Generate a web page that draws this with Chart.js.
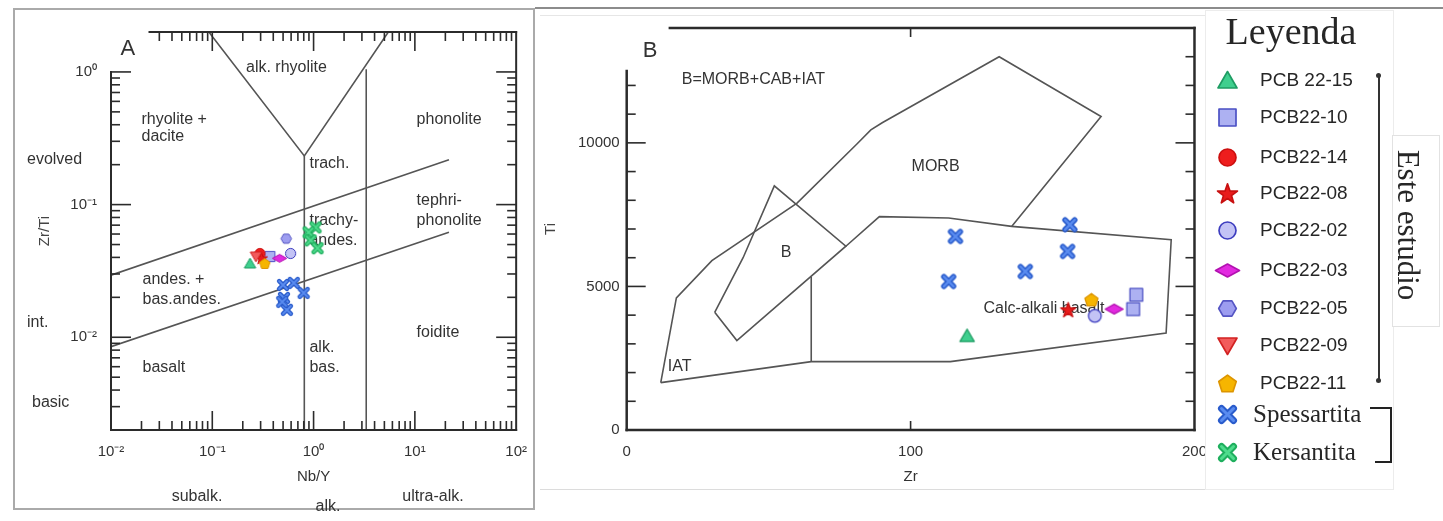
<!DOCTYPE html>
<html>
<head>
<meta charset="utf-8">
<script src="https://cdn.jsdelivr.net/npm/chart.js@4.4.1/dist/chart.umd.min.js"></script>
<style>
  body { margin: 0; background: #fff; }
  #page { position: relative; width: 1443px; height: 521px; overflow: hidden; background: #fff; }
  .abs { position: absolute; }
  .lg { position: absolute; line-height: 1; transform: translateY(-50%); white-space: nowrap; color: #262626; }
  .sans { font: 19px "Liberation Sans", Arial, sans-serif; }
  .serif { font: 25px "Liberation Serif", "Times New Roman", serif; }
</style>
</head>
<body>
<div id="page">
  <div class="abs" style="left:13px;top:8px;width:522px;height:502px;border:2px solid #aaa;box-sizing:border-box"></div>
  <div class="abs" style="left:0;top:0;width:540px;height:521px"><canvas id="chartA"></canvas></div>
  <div class="abs" style="left:535px;top:7px;width:908px;height:2px;background:#8c8c8c"></div>
  <div class="abs" style="left:540px;top:15px;width:665px;height:1px;background:#e6e6e6"></div>
  <div class="abs" style="left:540px;top:489px;width:665px;height:1px;background:#dcdcdc"></div>
  <div class="abs" style="left:540px;top:0;width:680px;height:521px"><canvas id="chartB"></canvas></div>
  <div class="abs" style="left:1205px;top:10px;width:187px;height:478px;background:#fff;border:1px solid #ececec"></div>
  <div class="abs" style="left:1392px;top:135px;width:46px;height:190px;border:1px solid #e2e2e2;background:#fff"></div>
  <div class="lg serif" style="left:1291px;top:31px;font-size:38px;transform:translate(-50%,-50%)">Leyenda</div>
  <div class="lg serif" style="left:1408px;top:225px;font-size:31px;transform:translate(-50%,-50%) rotate(90deg)">Este estudio</div>
  <div class="abs" style="left:1378px;top:76px;width:1.5px;height:304px;background:#333"></div>
  <div class="abs" style="left:1376px;top:73px;width:5px;height:5px;border-radius:3px;background:#333"></div>
  <div class="abs" style="left:1376px;top:378px;width:5px;height:5px;border-radius:3px;background:#333"></div>
  <div class="abs" style="left:1370px;top:407px;width:22px;height:2px;background:#222"></div>
  <div class="abs" style="left:1390px;top:407px;width:2px;height:56px;background:#222"></div>
  <div class="abs" style="left:1375px;top:461px;width:17px;height:2px;background:#222"></div>
</div>
<script>
const FAMILY = '"Liberation Sans", Arial, Helvetica, sans-serif';
Chart.defaults.font.family = FAMILY;

// samples, in legend order
const seriesNames = ['PCB 22-15', 'PCB22-10', 'PCB22-14', 'PCB22-08', 'PCB22-02', 'PCB22-03',
                     'PCB22-05', 'PCB22-09', 'PCB22-11', 'Spessartita', 'Kersantita'];
const seriesShape = ['triUp', 'square', 'circle', 'star', 'circle', 'diamond',
                     'hexagon', 'triDown', 'pentagon', 'cross', 'cross'];
const seriesFill = ['#3fcf8e', '#adb1f2', '#ee1d1d', '#e81c1c', '#c3c3f5', '#e22ae0',
                    '#9d9df0', '#f25b5b', '#f6b500', '#5a8cf0', '#4fdc8d'];
const seriesLine = ['#1e9c63', '#4a4fc4', '#cc0f0f', '#c81010', '#3d3dbf', '#b212b0',
                    '#5656c4', '#d22222', '#dd9500', '#2a5ccc', '#1faf5e'];

// panel A : Nb/Y vs Zr/Ti
const nbY = [[0.236], [0.37], [0.295], [0.306], [0.593], [0.462], [0.537], [0.27], [0.33],
             [0.499, 0.638, 0.798, 0.51, 0.545, 0.49],
             [1.046, 0.893, 0.935, 1.094]];
const zrTi = [[0.036], [0.0406], [0.0428], [0.0394], [0.0428], [0.0394], [0.0554], [0.0406], [0.036],
              [0.0248, 0.0257, 0.0216, 0.0198, 0.0161, 0.0185],
              [0.0673, 0.0618, 0.0538, 0.0469]];

// panel B : Zr vs Ti (ppm)
const zrB = [[119.9], [179.5, 178.4], [], [155.5], [164.9], [171.7], [], [], [163.7],
             [115.8, 113.4, 140.4, 156.1, 155.3], []];
const tiB = [[3279], [4709, 4210], [], [4186], [3976], [4210], [], [], [4534],
             [6742, 5173, 5522, 7150, 6219], []];

// field boundaries
const boundsA = [
  [[0.0925, 2], [0.81, 0.233], [5.47, 2]],
  [[0.81, 0.233], [0.81, 0.002]],
  [[3.31, 1.05], [3.31, 0.002]],
  [[0.01, 0.0294], [21.7, 0.218]],
  [[0.01, 0.00849], [21.7, 0.0618]]
];
const boundsB = [
  [[12, 1650], [17.5, 4600], [30, 5900], [60, 7900], [81, 9950], [86, 10450], [90, 10700], [131.2, 13000], [167.1, 10920], [135.6, 7090]],
  [[31, 4100], [41, 6000], [52, 8500], [77.2, 6400], [38.8, 3115], [31, 4100]],
  [[77.2, 6400], [89, 7430], [113.4, 7384], [135.6, 7091], [191.8, 6627], [190, 3373], [114, 2382], [65, 2382], [12, 1650]],
  [[65, 2382], [65, 5340]]
];

// ticks
const xTicksA = [0.01, 0.1, 1, 10, 100];
const xLabelsA = ['10⁻²', '10⁻¹', '10⁰', '10¹', '10²'];
const yTicksA = [0.01, 0.1, 1];
const yLabelsA = ['10⁻²', '10⁻¹', '10⁰'];
const xTicksB = [0, 100, 200];
const yTicksB = [0, 5000, 10000];

// field names
const labelsA = [
  ['A', 0.0147, 1.48, 'center', 22], ['alk. rhyolite', 0.54, 1.07, 'center'],
  ['rhyolite +', 0.020, 0.434], ['dacite', 0.020, 0.324], ['phonolite', 10.4, 0.434],
  ['trach.', 0.91, 0.203], ['tephri-', 10.4, 0.107], ['phonolite', 10.4, 0.076],
  ['trachy-', 0.91, 0.076], ['andes.', 0.91, 0.0538], ['andes. +', 0.0205, 0.027],
  ['bas.andes.', 0.0205, 0.0191], ['foidite', 10.4, 0.0108], ['alk.', 0.91, 0.00834],
  ['bas.', 0.91, 0.0059], ['basalt', 0.0205, 0.0059]
];
const outerA = [
  ['evolved', 27, 160, 'left'], ['int.', 27, 323, 'left'], ['basic', 32, 403, 'left'],
  ['subalk.', 197, 497, 'center'], ['alk.', 328, 507, 'center'], ['ultra-alk.', 433, 497, 'center']
];
const labelsB = [
  ['B', 8.2, 13185, 'center', 22], ['B=MORB+CAB+IAT', 19.4, 12208], ['MORB', 108.8, 9184, 'center'],
  ['B', 56.1, 6174, 'center'], ['IAT', 14.5, 2197], ['Calc-alkali basalt', 125.7, 4220]
];

function regular(g, cx, cy, R, n, startDeg) {
  for (let k = 0; k < n; k++) {
    const a = (startDeg + k * 360 / n) * Math.PI / 180;
    const px = cx + R * Math.cos(a), py = cy + R * Math.sin(a);
    k ? g.lineTo(px, py) : g.moveTo(px, py);
  }
  g.closePath();
}

function makeMarker(i, size) {
  const c = document.createElement('canvas');
  const s = Math.ceil(size * 1.35) + 4;
  c.width = s; c.height = s;
  const g = c.getContext('2d');
  const r = size / 2, cx = s / 2, cy = s / 2;
  g.fillStyle = seriesFill[i];
  g.strokeStyle = seriesLine[i];
  g.lineWidth = Math.max(1, size / 12);
  g.lineJoin = 'round';
  g.beginPath();
  switch (seriesShape[i]) {
    case 'triUp': regular(g, cx, cy + r * 0.2, r * 1.1, 3, -90); break;
    case 'triDown': regular(g, cx, cy - r * 0.2, r * 1.1, 3, 90); break;
    case 'square': g.rect(cx - r * 0.85, cy - r * 0.85, r * 1.7, r * 1.7); break;
    case 'circle': g.arc(cx, cy, r * 0.85, 0, 2 * Math.PI); break;
    case 'hexagon': regular(g, cx, cy, r * 0.88, 6, 0); break;
    case 'pentagon': regular(g, cx, cy + r * 0.08, r * 0.92, 5, -90); break;
    case 'diamond':
      g.moveTo(cx - r * 1.2, cy); g.lineTo(cx, cy - r * 0.65);
      g.lineTo(cx + r * 1.2, cy); g.lineTo(cx, cy + r * 0.65); g.closePath();
      break;
    case 'star':
      for (let k = 0; k < 10; k++) {
        const a = (-90 + k * 36) * Math.PI / 180, R = k % 2 ? r * 0.42 : r * 1.05;
        const px = cx + R * Math.cos(a), py = cy + r * 0.08 + R * Math.sin(a);
        k ? g.lineTo(px, py) : g.moveTo(px, py);
      }
      g.closePath();
      break;
    case 'cross': {
      const d = r * 0.6;
      g.lineCap = 'round';
      g.moveTo(cx - d, cy - d); g.lineTo(cx + d, cy + d);
      g.moveTo(cx + d, cy - d); g.lineTo(cx - d, cy + d);
      g.lineWidth = r * 0.7; g.stroke();
      g.strokeStyle = seriesFill[i]; g.lineWidth = r * 0.3; g.stroke();
      return c;
    }
  }
  g.fill();
  g.stroke();
  return c;
}

function boundaryDatasets(bounds) {
  return bounds.map(line => ({
    data: line.map(([x, y]) => ({ x, y })),
    showLine: true, pointRadius: 0, borderColor: '#555', borderWidth: 1.6,
    fill: false, tension: 0, order: 20
  }));
}

function pointDatasets(xs, ys, size) {
  return seriesNames.map((name, i) => ({
    label: name,
    data: xs[i].map((x, k) => ({ x, y: ys[i][k] })),
    pointStyle: makeMarker(i, seriesShape[i] === 'cross' ? size + 1 : size),
    pointRadius: 6, showLine: false, order: 11 - i
  }));
}

function annotate(inside, outside, frame) {
  const seg = (ctx, x1, y1, x2, y2) => { ctx.beginPath(); ctx.moveTo(x1, y1); ctx.lineTo(x2, y2); ctx.stroke(); };
  return {
    id: 'annotate',
    beforeDatasetsDraw(chart) {
      const { ctx, scales: { x, y } } = chart;
      ctx.save();
      ctx.fillStyle = '#333';
      ctx.textBaseline = 'middle';
      inside.forEach(([t, vx, vy, align, fs]) => {
        ctx.font = (fs || 16) + 'px ' + FAMILY;
        ctx.textAlign = align || 'left';
        ctx.fillText(t, x.getPixelForValue(vx), y.getPixelForValue(vy));
      });
      outside.forEach(([t, px, py, align]) => {
        ctx.font = '16px ' + FAMILY;
        ctx.textAlign = align;
        ctx.fillText(t, px, py);
      });
      ctx.restore();
    },
    afterDatasetsDraw(chart) {
      const { ctx, chartArea: a, scales: { x, y } } = chart;
      const yLeftTop = y.getPixelForValue(frame.leftTop);
      const xTopStart = x.getPixelForValue(frame.topStart);
      ctx.save();
      ctx.strokeStyle = '#2b2b2b';
      ctx.lineWidth = frame.width;
      ctx.lineCap = 'square';
      seg(ctx, a.left, yLeftTop, a.left, a.bottom);
      seg(ctx, a.left, a.bottom, a.right, a.bottom);
      seg(ctx, a.right, a.top, a.right, a.bottom);
      seg(ctx, xTopStart, a.top, a.right, a.top);
      ctx.lineWidth = 1.6;
      ctx.lineCap = 'butt';
      frame.xTicks.forEach(([v, len]) => {
        const p = x.getPixelForValue(v);
        if (p < a.left + 1 || p > a.right - 1) return;
        seg(ctx, p, a.bottom, p, a.bottom - len);
        if (p >= xTopStart) seg(ctx, p, a.top, p, a.top + len);
      });
      frame.yTicks.forEach(([v, len]) => {
        const p = y.getPixelForValue(v);
        if (p < a.top + 1 || p > a.bottom - 1) return;
        if (p >= yLeftTop - 0.5) seg(ctx, a.left, p, a.left + len, p);
        seg(ctx, a.right, p, a.right - len, p);
      });
      ctx.restore();
    }
  };
}

function logTicks(lo, hi, major) {
  const out = [];
  for (let d = -3; d <= 2; d++) {
    for (let k = 1; k <= 9; k++) {
      const v = k * Math.pow(10, d);
      if (v >= lo * 0.999 && v <= hi * 1.001) out.push([v, k === 1 ? major : 9]);
    }
  }
  return out;
}

const tickFont = { size: 15, family: FAMILY };
const titleFont = { size: 15, family: FAMILY };

new Chart(document.getElementById('chartA'), {
  type: 'scatter',
  data: { datasets: [...pointDatasets(nbY, zrTi, 12), ...boundaryDatasets(boundsA)] },
  options: {
    responsive: true, maintainAspectRatio: false, animation: false,
    layout: { padding: { left: 0, right: 19, top: 32, bottom: 0 } },
    plugins: { legend: { display: false }, tooltip: { enabled: false } },
    scales: {
      x: {
        type: 'logarithmic', min: 0.01, max: 100,
        grid: { display: false, drawTicks: false }, border: { display: false },
        afterBuildTicks: s => { s.ticks = xTicksA.map(v => ({ value: v })); },
        afterFit: s => { s.height = 91; },
        ticks: { padding: 13, color: '#333', font: tickFont, autoSkip: false, maxRotation: 0,
                 callback: (v, i) => xLabelsA[i] },
        title: { display: true, text: 'Nb/Y', color: '#333', font: titleFont, padding: { top: 0, bottom: 35 } }
      },
      y: {
        type: 'logarithmic', min: 0.002, max: 2,
        grid: { display: false, drawTicks: false }, border: { display: false },
        afterBuildTicks: s => { s.ticks = yTicksA.map(v => ({ value: v })); },
        afterFit: s => { s.width = 111; },
        ticks: { padding: 14, color: '#333', font: tickFont, autoSkip: false,
                 callback: (v, i) => yLabelsA[i] },
        title: { display: true, text: 'Zr/Ti', color: '#444', font: titleFont, padding: { top: 36, bottom: 0 } }
      }
    }
  },
  plugins: [annotate(labelsA, outerA, {
    leftTop: 1, topStart: 0.024, width: 2,
    xTicks: logTicks(0.01, 100, 19), yTicks: logTicks(0.002, 2, 20)
  })]
});

const yTickMarksB = [];
for (let v = 1000; v <= 13000; v += 1000) yTickMarksB.push([v, v % 5000 === 0 ? 19 : 9]);

new Chart(document.getElementById('chartB'), {
  type: 'scatter',
  data: { datasets: [...pointDatasets(zrB, tiB, 15), ...boundaryDatasets(boundsB)] },
  options: {
    responsive: true, maintainAspectRatio: false, animation: false,
    layout: { padding: { left: 0, right: 23.3, top: 28, bottom: 0 } },
    plugins: { legend: { display: false }, tooltip: { enabled: false } },
    scales: {
      x: {
        type: 'linear', min: 0, max: 200,
        grid: { display: false, drawTicks: false }, border: { display: false },
        afterBuildTicks: s => { s.ticks = xTicksB.map(v => ({ value: v })); },
        afterFit: s => { s.height = 91; },
        ticks: { padding: 13, color: '#333', font: tickFont, autoSkip: false, maxRotation: 0 },
        title: { display: true, text: 'Zr', color: '#333', font: titleFont, padding: { top: 0, bottom: 35 } }
      },
      y: {
        type: 'linear', min: 0, max: 14000,
        grid: { display: false, drawTicks: false }, border: { display: false },
        afterBuildTicks: s => { s.ticks = yTicksB.map(v => ({ value: v })); },
        afterFit: s => { s.width = 86.7; },
        ticks: { padding: 7, color: '#333', font: tickFont, autoSkip: false,
                 callback: v => String(v) },
        title: { display: true, text: 'Ti', color: '#444', font: titleFont, padding: { top: 2, bottom: 0 } }
      }
    }
  },
  plugins: [annotate(labelsB, [], {
    leftTop: 12500, topStart: 15.2, width: 2.5,
    xTicks: [[100, 9]], yTicks: yTickMarksB
  })]
});

// legend
const page = document.getElementById('page');
const legendRowY = [80, 117, 157, 193, 230, 270, 308, 345, 383, 414, 452];
seriesNames.forEach((name, i) => {
  const m = makeMarker(i, 20);
  m.style.cssText = `position:absolute;left:${1227 - m.width / 2}px;top:${legendRowY[i] - m.height / 2}px`;
  page.appendChild(m);
  const t = document.createElement('div');
  t.className = 'lg ' + (i < 9 ? 'sans' : 'serif');
  t.textContent = name;
  t.style.left = (i < 9 ? 1260 : 1253) + 'px';
  t.style.top = legendRowY[i] + 'px';
  page.appendChild(t);
});
</script>
</body>
</html>
